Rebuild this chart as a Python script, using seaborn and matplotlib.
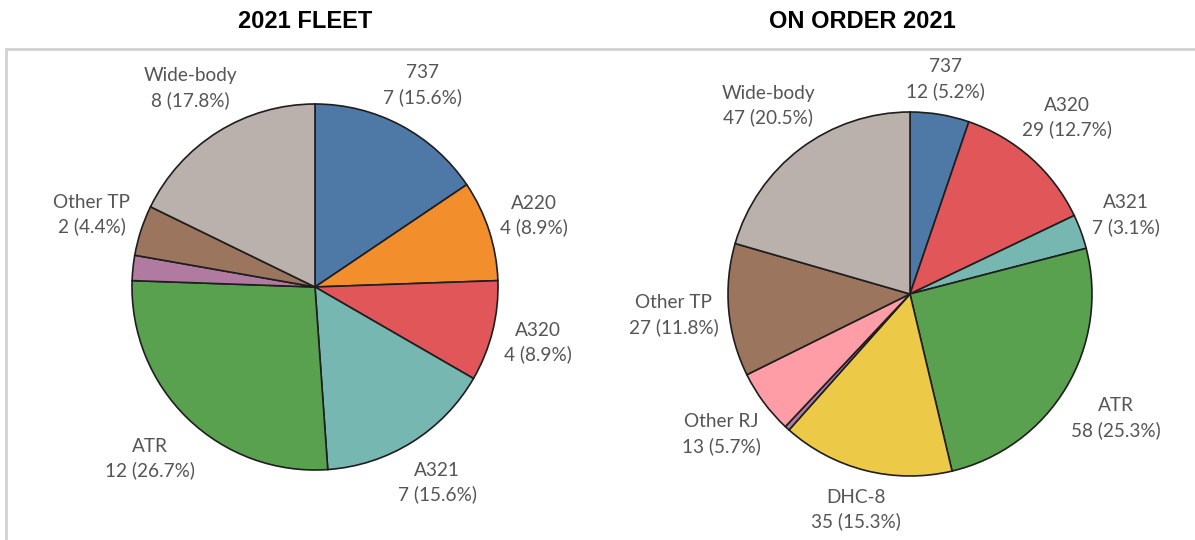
import matplotlib
matplotlib.use('Agg')
import numpy as np
import matplotlib.pyplot as plt
import seaborn as sns
from matplotlib.patches import Rectangle

# Data
fleet_types = ['737', 'A220', 'A320', 'A321', 'ATR', 'Other', 'Other TP', 'Wide-body']
fleet_counts = [7, 4, 4, 7, 12, 1, 2, 8]

order_types = ['737', 'A320', 'A321', 'ATR', 'DHC-8', 'Other', 'Other RJ', 'Other TP', 'Wide-body']
order_counts = [12, 29, 7, 58, 35, 1, 13, 27, 47]

titles = ['2021 FLEET', 'ON ORDER 2021']

# Tableau 10 colours per aircraft type
type_colors = {
    '737': '#4e79a7', 'A220': '#f28e2b', 'A320': '#e15759', 'A321': '#76b7b2',
    'ATR': '#59a14f', 'DHC-8': '#edc948', 'Other': '#b07aa1', 'Other RJ': '#ff9da7',
    'Other TP': '#9c755f', 'Wide-body': '#bab0ac',
}

sns.set_theme(style='white')
plt.rcParams['font.family'] = ['Lato', 'DejaVu Sans']

W, H = 1195, 540
fig = plt.figure(figsize=(W / 100, H / 100), dpi=100)
ax = fig.add_axes([0, 0, 1, 1])
ax.set_xlim(0, W)
ax.set_ylim(0, H)


def make_labels(types, counts, min_share=3.0):
    total = sum(counts)
    out = []
    for t, c in zip(types, counts):
        share = c / total * 100
        out.append(f'{t}\n{c} ({share:.1f}%)' if share >= min_share else '')
    return out


def draw_pie(types, counts, center, radius, gap=9):
    colors = [type_colors[t] for t in types]
    wedges, texts = ax.pie(counts, labels=make_labels(types, counts), colors=colors,
                           startangle=90, counterclock=False, center=center,
                           radius=radius, frame=True,
                           wedgeprops=dict(edgecolor='#1e1e1e', linewidth=1.2),
                           textprops=dict(ha='center', va='center', fontsize=13.7,
                                          color='#555555', linespacing=1.45))
    # push each label just outside the rim, like Tableau does
    renderer = fig.canvas.get_renderer()
    for w, t in zip(wedges, texts):
        if not t.get_text():
            continue
        ang = np.deg2rad((w.theta1 + w.theta2) / 2)
        ux, uy = np.cos(ang), np.sin(ang)
        bb = t.get_window_extent(renderer)
        hw, hh = bb.width / 2, bb.height / 2
        d = radius + gap + abs(ux) * hw + abs(uy) * hh
        t.set_position((center[0] + d * ux, center[1] + d * uy))


draw_pie(fleet_types, fleet_counts, (315, H - 287), 183)
draw_pie(order_types, order_counts, (910, H - 294), 182)

# panel titles
ax.text(305, H - 21, titles[0], ha='center', va='center', fontsize=17,
        fontweight='bold', family=['Liberation Sans', 'DejaVu Sans'], color='black')
ax.text(862, H - 21, titles[1], ha='center', va='center', fontsize=17,
        fontweight='bold', family=['Liberation Sans', 'DejaVu Sans'], color='black')

# light frame around the chart area
ax.add_patch(Rectangle((6, -10), W + 10, H - 49 + 10, fill=False,
                       edgecolor='#d2d2d2', linewidth=2, clip_on=False))

ax.set_xlim(0, W)
ax.set_ylim(0, H)
ax.set_aspect('equal')
ax.axis('off')

fig.savefig('out.png', dpi=100, facecolor='white')
